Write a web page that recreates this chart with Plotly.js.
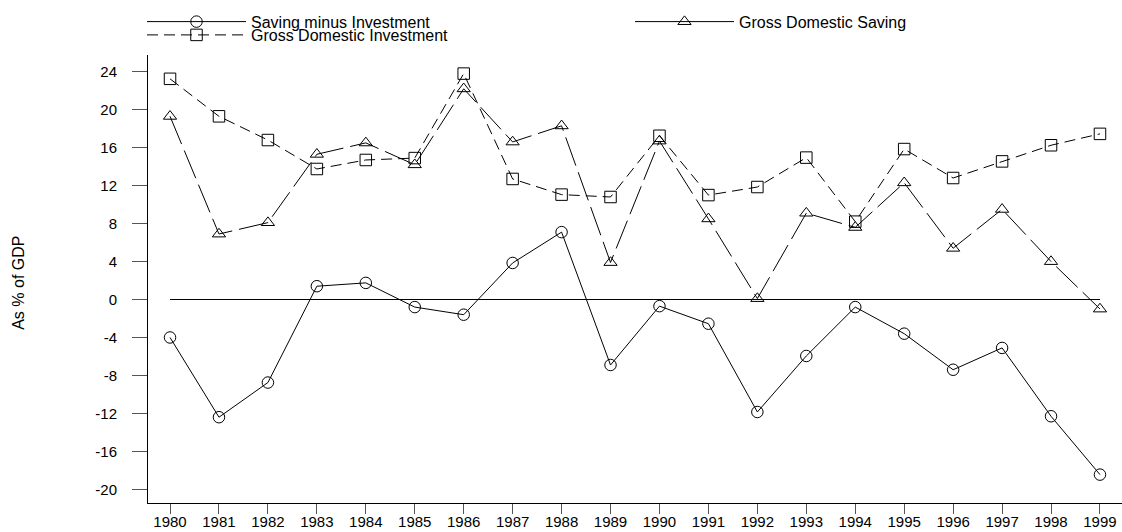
<!DOCTYPE html>
<html>
<head>
<meta charset="utf-8">
<script src="https://cdn.plot.ly/plotly-3.0.1.min.js"></script>
<style>html,body{margin:0;padding:0;background:#fff;}#chart{width:1122px;height:532px;}</style>
</head>
<body>
<div id="chart"></div>
<script>
var years = [1980,1981,1982,1983,1984,1985,1986,1987,1988,1989,1990,1991,1992,1993,1994,1995,1996,1997,1998,1999];
var savingMinusInvestment = [-4.0,-12.4,-8.75,1.4,1.75,-0.8,-1.6,3.85,7.1,-6.9,-0.7,-2.55,-11.85,-5.95,-0.8,-3.6,-7.4,-5.1,-12.3,-18.45];
var grossDomesticSaving = [19.3,6.9,8.1,15.3,16.5,14.2,22.2,16.6,18.3,3.9,16.7,8.5,0.1,9.1,7.6,12.3,5.4,9.5,4.0,-1.0];
var grossDomesticInvestment = [23.25,19.3,16.8,13.75,14.7,14.9,23.8,12.7,11.05,10.8,17.25,11.0,11.85,14.95,8.2,15.85,12.8,14.55,16.25,17.45];
var zeroLineX = [1980,1999];
var zeroLineY = [0,0];
var yTicks = [24,20,16,12,8,4,0,-4,-8,-12,-16,-20];
var seriesNames = ['Saving minus Investment','Gross Domestic Saving','Gross Domestic Investment'];
var yTitle = 'As % of GDP';

var FONT = 'Liberation Sans, Arial, Helvetica, sans-serif';
var traces = [
  {x: zeroLineX, y: zeroLineY, mode: 'lines', line: {color: '#000', width: 1}, showlegend: false, hoverinfo: 'skip'},
  {x: years, y: grossDomesticInvestment, name: seriesNames[2], mode: 'lines+markers', legend: 'legend3',
   line: {color: '#000', width: 1, dash: '11px,6px'},
   marker: {symbol: 'square-open', size: 11.5, color: '#000', line: {width: 1, color: '#000'}}},
  {x: years, y: grossDomesticSaving, name: seriesNames[1], mode: 'lines+markers', showlegend: false,
   line: {color: '#000', width: 1, dash: '30px,7px'},
   marker: {symbol: 'triangle-up-open', size: 11.5, color: '#000', line: {width: 1, color: '#000'}}},
  {x: years, y: savingMinusInvestment, name: seriesNames[0], mode: 'lines+markers', legend: 'legend',
   line: {color: '#000', width: 1},
   marker: {symbol: 'circle-open', size: 11.5, color: '#000', line: {width: 1, color: '#000'}}},
  {x: [null], y: [null], name: seriesNames[1], mode: 'lines+markers', legend: 'legend2',
   line: {color: '#000', width: 1},
   marker: {symbol: 'triangle-up-open', size: 11.5, color: '#000', line: {width: 1, color: '#000'}}}
];

function legendAt(px, py) {
  return {x: (px - 148) / 974, xanchor: 'left', y: (503 - py) / 448, yanchor: 'middle',
    orientation: 'h', itemwidth: 99, bgcolor: 'rgba(0,0,0,0)', borderwidth: 0,
    font: {family: FONT, size: 16, color: '#000'}, tracegroupgap: 0, itemclick: false};
}

var layout = {
  width: 1122, height: 532,
  margin: {l: 148, r: 0, t: 55, b: 29, pad: 0},
  paper_bgcolor: '#fff', plot_bgcolor: '#fff',
  font: {family: FONT, size: 15, color: '#000'},
  showlegend: true,
  legend: legendAt(142, 21.7),
  legend2: legendAt(630, 21.7),
  legend3: legendAt(142, 35),
  xaxis: {range: [1979.55, 1999.45], tickmode: 'array', tickvals: years, ticktext: years.map(String),
    ticks: 'outside', ticklen: 10, tickwidth: 1, tickcolor: '#555', showgrid: false, zeroline: false,
    showline: true, linecolor: '#000', linewidth: 1, ticklabelstandoff: -5,
    tickfont: {family: FONT, size: 15, color: '#000'}, fixedrange: true},
  yaxis: {range: [-21.44, 25.76], tickmode: 'array', tickvals: yTicks, ticktext: yTicks.map(String),
    ticks: 'outside', ticklen: 15, tickwidth: 1, tickcolor: '#555', showgrid: false, zeroline: false,
    showline: true, linecolor: '#000', linewidth: 1, ticklabelstandoff: 12,
    tickfont: {family: FONT, size: 15, color: '#000'}, fixedrange: true},
  annotations: [{text: yTitle, xref: 'paper', yref: 'paper', x: 0, xshift: -129.5, y: (503 - 283.3) / 448,
    xanchor: 'center', yanchor: 'middle', textangle: -90, showarrow: false,
    font: {family: FONT, size: 16, color: '#000'}}]
};

Plotly.newPlot('chart', traces, layout, {staticPlot: true, displayModeBar: false});
</script>
</body>
</html>
